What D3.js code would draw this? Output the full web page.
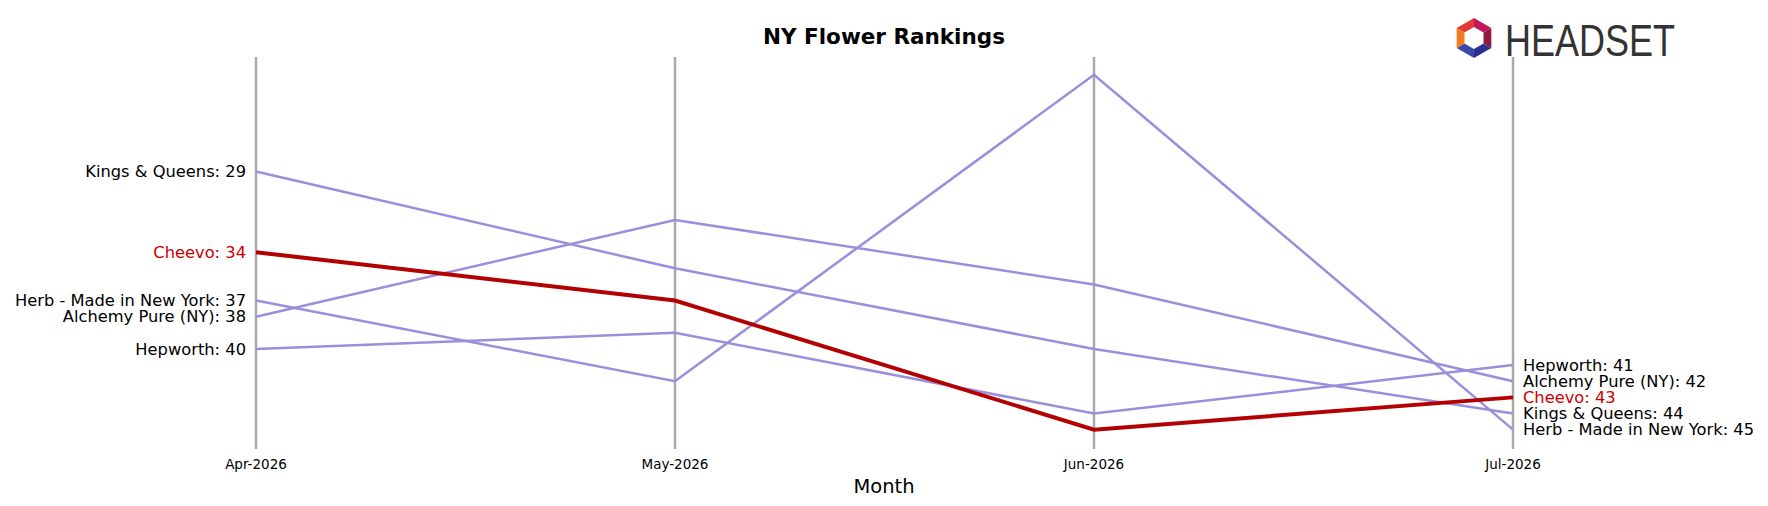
<!DOCTYPE html>
<html><head><meta charset="utf-8">
<script src="https://cdn.jsdelivr.net/npm/d3@7"></script>
<style>body{margin:0;background:#fff;font-family:"DejaVu Sans",sans-serif}</style>
</head><body><svg id="c" width="1768" height="506"></svg>
<script>
const months = ["Apr-2026","May-2026","Jun-2026","Jul-2026"];
const brands = ["Kings & Queens","Cheevo","Herb - Made in New York","Alchemy Pure (NY)","Hepworth"];
const ranks = [
  [29,35,40,44],
  [34,37,45,43],
  [37,42,23,45],
  [38,32,36,42],
  [40,39,44,41]
];
const highlight = "Cheevo";
const svg = d3.select("#c");
const x = d3.scalePoint().domain(months).range([256,1513]);
const y = d3.scaleLinear().domain([21.9,46.2]).range([57,449]);
months.forEach(m=>{
  svg.append("line").attr("x1",x(m)).attr("x2",x(m)).attr("y1",57).attr("y2",449)
    .attr("stroke","#aaa").attr("stroke-width",2.5);
});
const line = d3.line().x((d,i)=>x(months[i])).y(d=>y(d));
const order = brands.map((b,i)=>i).sort((a,b)=>(brands[a]===highlight)-(brands[b]===highlight));
order.forEach(i=>{
  const hi = brands[i]===highlight;
  svg.append("path").attr("d",line(ranks[i])).attr("fill","none")
    .attr("stroke",hi?"#b30000":"#9b8fdb").attr("stroke-width",hi?4:2.5);
});
brands.forEach((b,i)=>{
  const hi=b===highlight;
  svg.append("text").attr("x",x(months[0])-10).attr("y",y(ranks[i][0])).attr("dy","0.35em")
    .attr("text-anchor","end").attr("font-size",16.3).attr("fill",hi?"#c00":"#000").text(b+": "+ranks[i][0]);
  svg.append("text").attr("x",x(months[3])+10).attr("y",y(ranks[i][3])).attr("dy","0.35em")
    .attr("text-anchor","start").attr("font-size",16.3).attr("fill",hi?"#c00":"#000").text(b+": "+ranks[i][3]);
});
months.forEach(m=>{
  svg.append("text").attr("x",x(m)).attr("y",469).attr("text-anchor","middle").attr("font-size",13.5).text(m);
});
svg.append("text").attr("x",884).attr("y",493).attr("text-anchor","middle").attr("font-size",19.5).text("Month");
svg.append("text").attr("x",884).attr("y",44).attr("text-anchor","middle").attr("font-size",21.5).attr("font-weight","bold").text("NY Flower Rankings");
// logo
const g=svg.append("g").attr("transform","translate(1474,38)");
const hex=d3.range(6).map(k=>[20*Math.cos(Math.PI/3*k-Math.PI/2),20*Math.sin(Math.PI/3*k-Math.PI/2)]);
const cols=["#c2185b","#8e1b3f","#2e3192","#3949ab","#f47b20","#e53935"];
for(let k=0;k<6;k++){const a=hex[k],b=hex[(k+1)%6];
  g.append("path").attr("d",`M${a[0]*0.55},${a[1]*0.55}L${a[0]},${a[1]}L${b[0]},${b[1]}L${b[0]*0.55},${b[1]*0.55}Z`).attr("fill",cols[k]);}
svg.append("text").attr("x",1505).attr("y",56).attr("font-size",44).attr("font-family","Liberation Sans Narrow, Liberation Sans").attr("fill","#333").attr("textLength",170).attr("lengthAdjust","spacingAndGlyphs").text("HEADSET");
</script></body></html>
